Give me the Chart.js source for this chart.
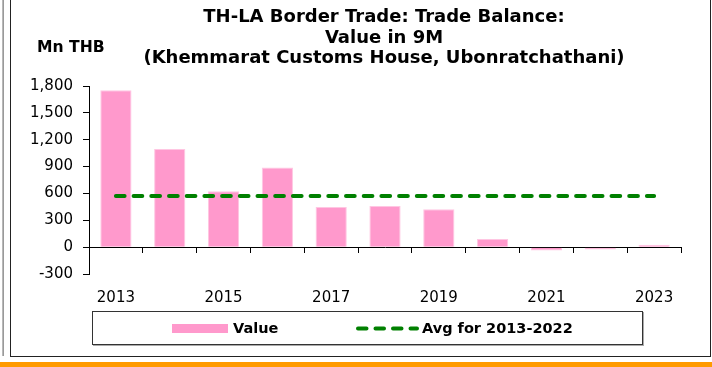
<!DOCTYPE html>
<html>
<head>
<meta charset="utf-8">
<script src="https://cdn.jsdelivr.net/npm/chart.js@4/dist/chart.umd.min.js"></script>
<style>
  html, body { margin: 0; padding: 0; background: #fff; }
  #page { position: relative; width: 712px; height: 367px; overflow: hidden; background: #fff; }
  #edge { position: absolute; left: 2px; top: 0; width: 2px; height: 356px; background: linear-gradient(to right, #c8c8c8, #8a8a8a); }
  #frame { position: absolute; left: 10px; top: -2px; width: 699px; height: 357px; border: 1px solid #222; }
  #band { position: absolute; left: 0; top: 362px; width: 712px; height: 5px; background: #ff9a00; }
  #chart { position: absolute; left: 0; top: 0; }
  .txt { position: absolute; font-family: "DejaVu Sans", sans-serif; font-weight: bold; color: #000; white-space: nowrap; }
  #title { left: 134px; width: 500px; top: 6px; text-align: center; font-size: 18px; line-height: 20.5px; }
  #unit { left: 37px; top: 38px; font-size: 15.6px; line-height: 18px; }
  #legend { position: absolute; left: 92px; top: 311px; width: 549px; height: 32px; border: 1px solid #333; box-shadow: 1px 1px 0 #aaa; background: #fff; }
  .lg { font-size: 14.5px; line-height: 17px; top: 320px; }
  #swatch { position: absolute; left: 172px; top: 324px; width: 56px; height: 9px; }
  #dash { position: absolute; left: 355px; top: 325px; }
</style>
</head>
<body>
<div id="page">
  <div id="edge"></div>
  <div id="frame"></div>
  <div id="band"></div>
  <div id="legend"></div>
  <canvas id="chart" width="712" height="367"></canvas>
  <div id="title" class="txt">TH-LA Border Trade: Trade Balance:<br>Value in 9M<br>(Khemmarat Customs House, Ubonratchathani)</div>
  <div id="unit" class="txt">Mn THB</div>
  <div id="swatch"></div>
  <div id="lgValue" class="txt lg" style="left:233px"></div>
  <svg id="dash" width="64" height="7"><line id="dashLine" x1="3" y1="3.5" x2="62" y2="3.5" stroke-width="4" stroke-linecap="round" stroke-dasharray="8.5 9"/></svg>
  <div id="lgAvg" class="txt lg" style="left:422px"></div>
</div>
<script>
// Trade balance, Jan-Sep, Mn THB
const years = ['2013', '2014', '2015', '2016', '2017', '2018', '2019', '2020', '2021', '2022', '2023'];
const tradeBalance = [1752, 1095, 624, 891, 449, 460, 423, 92, -38, -27, 26];
const avg2013to2022 = [572, 572, 572, 572, 572, 572, 572, 572, 572, 572, 572];
const seriesNames = ['Value', 'Avg for 2013-2022'];
const yMin = -300, yMax = 1800, yStep = 300;

const pink = '#ff99cc';
const green = '#008000';
const tickFont = { family: 'DejaVu Sans', size: 15 };

const chart = new Chart(document.getElementById('chart'), {
  type: 'bar',
  data: {
    labels: years,
    datasets: [
      {
        type: 'line',
        label: seriesNames[1],
        data: avg2013to2022,
        borderColor: green,
        borderWidth: 4,
        borderDash: [8.7, 9],
        borderCapStyle: 'round',
        pointRadius: 0,
        fill: false,
        order: 0
      },
      {
        type: 'bar',
        label: seriesNames[0],
        data: tradeBalance,
        backgroundColor: pink,
        borderColor: '#ffc6e2',
        borderWidth: 1,
        barPercentage: 0.58,
        categoryPercentage: 1,
        order: 1
      }
    ]
  },
  options: {
    responsive: false,
    animation: false,
    layout: { padding: { left: 0, top: 86, right: 31, bottom: 48 } },
    plugins: {
      legend: { display: false },
      title: { display: false },
      tooltip: { enabled: false }
    },
    scales: {
      x: {
        type: 'category',
        position: 'bottom',
        offset: true,
        grid: { display: false },
        border: { display: false },
        ticks: {
          autoSkip: false,
          maxRotation: 0,
          padding: 7,
          color: '#000',
          font: tickFont,
          callback: (v, i) => (i % 2 === 0 ? years[i] : '')
        },
        afterFit: s => { s.height = 45; }
      },
      xZero: {
        axis: 'x',
        type: 'category',
        position: { y: 0 },
        offset: true,
        grid: { drawOnChartArea: false, offset: true, tickLength: 5, color: '#000' },
        border: { color: '#000', width: 1 },
        ticks: { display: false }
      },
      y: {
        min: yMin,
        max: yMax,
        grid: { drawOnChartArea: false, tickLength: 6, color: '#000' },
        border: { color: '#000', width: 1 },
        ticks: {
          stepSize: yStep,
          padding: 10,
          color: '#000',
          font: tickFont,
          callback: v => Number(v).toLocaleString('en-US')
        },
        afterFit: s => { s.width = 89; }
      }
    }
  }
});

// Legend entries taken from the chart's datasets
const barSet = chart.data.datasets.find(d => d.type === 'bar');
const lineSet = chart.data.datasets.find(d => d.type === 'line');
document.getElementById('swatch').style.background = barSet.backgroundColor;
document.getElementById('lgValue').textContent = barSet.label;
document.getElementById('dashLine').setAttribute('stroke', lineSet.borderColor);
document.getElementById('lgAvg').textContent = lineSet.label;
</script>
</body>
</html>
